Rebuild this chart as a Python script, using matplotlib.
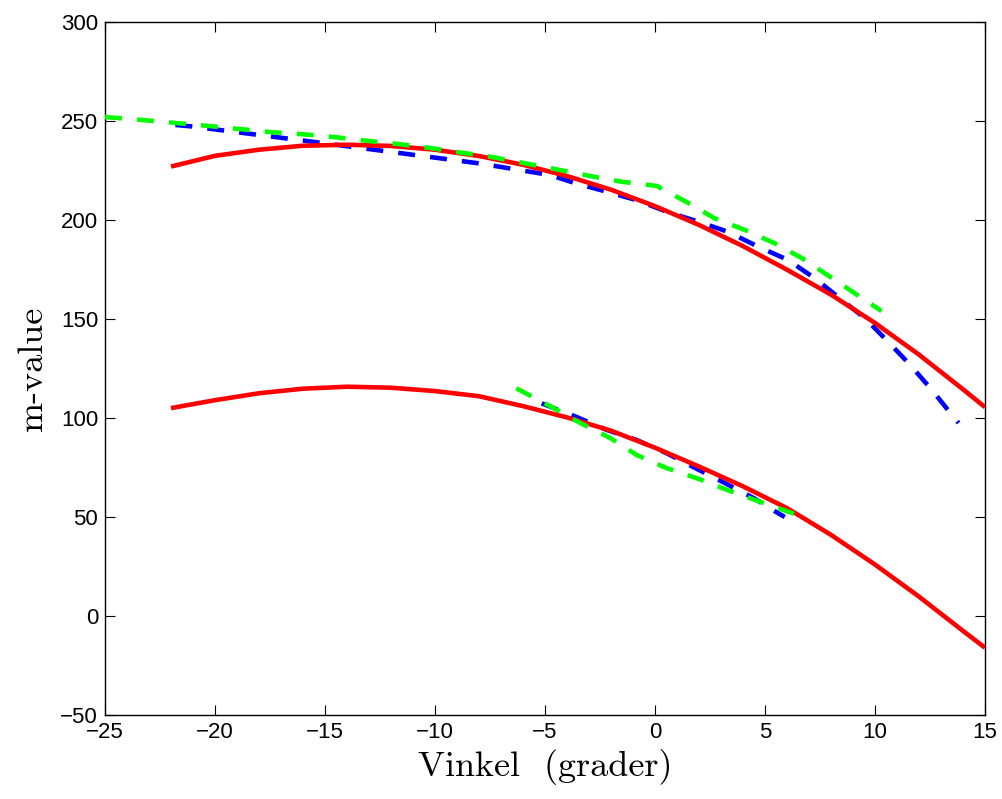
import matplotlib
matplotlib.use("Agg")
import matplotlib.pyplot as plt

# Upper red fit curve
red_up_x = [-22, -20, -18, -16, -14, -12, -10, -8, -6, -4, -2, 0, 2, 4, 6, 8, 10, 12, 14, 15]
red_up_y = [227.0, 232.4, 235.5, 237.5, 238.0, 237.4, 235.5, 232.3, 227.9, 222.2, 215.3, 207.0,
            197.5, 186.8, 174.9, 162.3, 148.0, 132.0, 114.5, 105.5]

# Lower red fit curve
red_lo_x = [-22, -20, -18, -16, -14, -12, -10, -8, -6, -4, -2, 0, 2, 4, 6, 8, 10, 12, 14, 15]
red_lo_y = [105.0, 109.0, 112.5, 114.8, 115.8, 115.3, 113.6, 111.0, 106.0, 100.3, 93.6, 85.0,
            75.5, 65.5, 54.5, 41.0, 26.0, 9.8, -7.5, -16.0]

# Upper blue dashed
blue_up_x = [-21.8, -21.1, -15.2, -8.0, -4.77, -3.6, -2.2, -0.83, 0.53, 1.96, 3.3, 4.7, 6.05,
             7.27, 8.4, 9.55, 10.6, 11.6, 12.6, 13.5, 13.8]
blue_up_y = [248.0, 247.3, 239.0, 228.6, 222.7, 218.5, 214.3, 210.0, 204.2, 199.2, 194.1, 186.5,
             179.8, 170.5, 160.5, 150.3, 138.5, 126.8, 114.0, 101.5, 97.5]

# Upper green dashed
green_up_x = [-25, -23.3, -20.3, -17.4, -16, -14.6, -13.1, -11.7, -10.3, -8.8, -7.5, -4.3, -2.8,
              -1.5, 0.08, 1.4, 2.7, 4.1, 5.45, 6.7, 7.95, 9.2, 10.3]
green_up_y = [252.0, 250.5, 247.5, 244.3, 243.3, 241.9, 240.0, 238.4, 236.5, 234.0, 232.0, 225.2,
              221.9, 219.3, 217.2, 209.3, 200.9, 194.9, 188.2, 180.6, 171.4, 162.1, 154.0]

# Lower blue dashed
blue_lo_x = [-5.15, -3.6, -2.2, -0.83, 0.53, 1.85, 3.2, 4.5, 5.6, 5.9]
blue_lo_y = [107.4, 100.7, 94.0, 88.9, 82.2, 74.6, 67.0, 59.5, 51.9, 50.0]

# Lower green dashed
green_lo_x = [-6.3, -4.6, -3.4, -2.05, -0.83, 0.53, 1.9, 3.3, 4.7, 6.05, 6.5]
green_lo_y = [115.0, 105.0, 97.5, 90.0, 81.3, 74.7, 69.6, 63.6, 58.0, 52.7, 51.0]

x_ticks = [-25, -20, -15, -10, -5, 0, 5, 10, 15]
y_ticks = [-50, 0, 50, 100, 150, 200, 250, 300]

fig = plt.figure(figsize=(10.02, 7.99), dpi=100)
ax = fig.add_axes([0.1048, 0.1051, 0.8782, 0.8674])

dash = (3.7, 3.3)
lw = 3.3
ax.plot(red_up_x, red_up_y, color='#ff0000', lw=lw, solid_capstyle='butt', zorder=3)
ax.plot(red_lo_x, red_lo_y, color='#ff0000', lw=lw, solid_capstyle='butt', zorder=3)
ax.plot(blue_up_x, blue_up_y, color='#0000ff', lw=lw, dashes=dash, dash_capstyle='butt', zorder=2)
ax.plot(blue_lo_x, blue_lo_y, color='#0000ff', lw=lw, dashes=dash, dash_capstyle='butt', zorder=2)
ax.plot(green_up_x, green_up_y, color='#00ff00', lw=lw, dashes=dash, dash_capstyle='butt', zorder=4)
ax.plot(green_lo_x, green_lo_y, color='#00ff00', lw=lw, dashes=dash, dash_capstyle='butt', zorder=4)

ax.set_xlim(-25, 15)
ax.set_ylim(-50, 300)
ax.set_xticks(x_ticks)
ax.set_yticks(y_ticks)
ax.set_xticklabels([str(t).replace('-', '\u2212') for t in x_ticks])
ax.set_yticklabels([str(t).replace('-', '\u2212') for t in y_ticks])
ax.tick_params(direction='in', length=7, width=0.8, top=True, right=True,
               labelsize=16, pad=5)
for lab in ax.get_xticklabels() + ax.get_yticklabels():
    lab.set_fontfamily('Liberation Sans')
for s in ax.spines.values():
    s.set_linewidth(1.0)

ax.set_xlabel('Vinkel  (grader)', fontfamily='cmr10', fontsize=26, labelpad=4)
ax.set_ylabel('m-value', fontfamily='cmr10', fontsize=26, labelpad=8)

fig.savefig('out.png', dpi=100)
